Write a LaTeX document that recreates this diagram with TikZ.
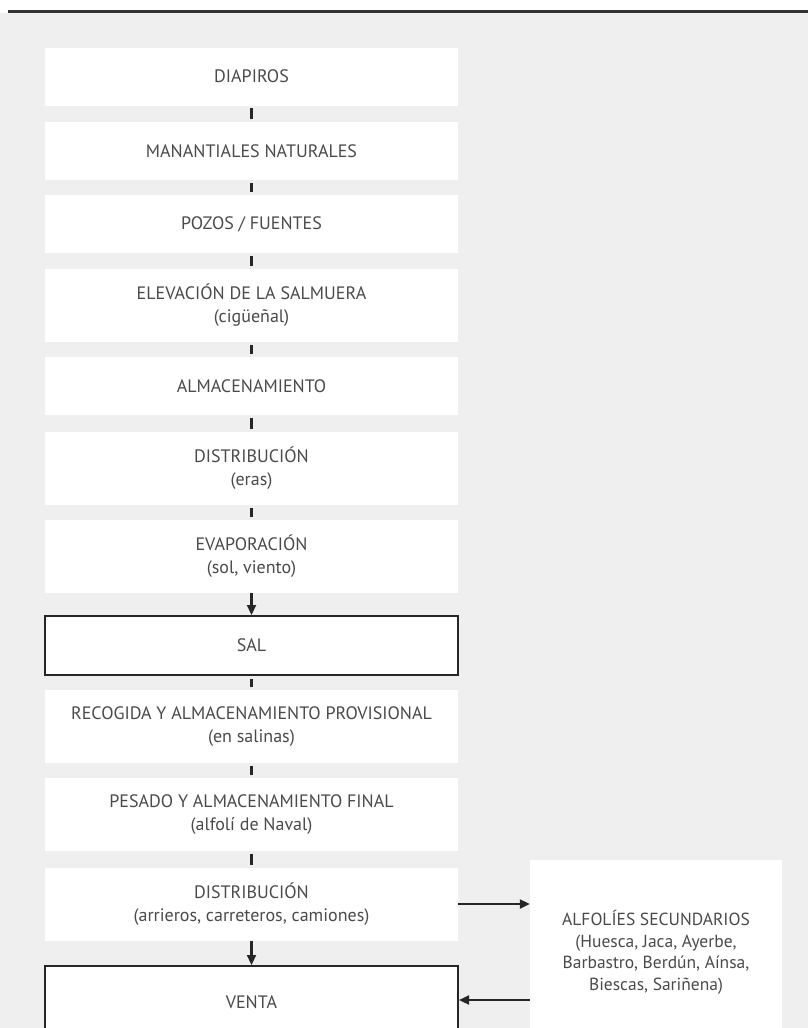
\documentclass[tikz,border=0pt]{standalone}
\usepackage{fontspec}
\setmainfont{PT Sans}
\usetikzlibrary{arrows.meta}
\definecolor{fondo}{HTML}{EFEFEF}
\definecolor{texto}{HTML}{4A4A4A}
\begin{document}
\begin{tikzpicture}[x=1pt, y=-1pt]
	\tikzstyle{paso}=[fill=white, text=texto, align=center, inner sep=0pt, minimum width=413pt, font=\fontsize{18}{23}\selectfont]
	\tikzstyle{simple}=[paso, minimum height=58pt]
	\tikzstyle{doble}=[paso, minimum height=73pt]
	\tikzstyle{marco}=[paso, draw=black!85, line width=2pt, minimum height=59pt]
	\tikzstyle{conector}=[draw, black!85, line width=2.2pt]
	\tikzstyle{arrow}=[conector, -{Triangle[length=10pt, width=9pt]}]
	\newcommand\Xmid{251.5}

	\useasboundingbox (0,0) rectangle (808,1028);
	\clip (0,0) rectangle (808,1028);
	\fill [fondo] (0,13) rectangle (808,1028);
	\draw [black!80, line width=2.5pt] (8,11.5) -- (808,11.5);

	\node [simple] (1) at (\Xmid, 76.5) {DIAPIROS};
	\node [simple] (2) at (\Xmid, 151) {MANANTIALES NATURALES};
	\node [simple] (3) at (\Xmid, 224) {POZOS / FUENTES};
	\node [doble] (4) at (\Xmid, 305.5) {ELEVACIÓN DE LA SALMUERA\\(cigüeñal)};
	\node [simple] (5) at (\Xmid, 386) {ALMACENAMIENTO};
	\node [doble] (6) at (\Xmid, 468.5) {DISTRIBUCIÓN\\(eras)};
	\node [doble] (7) at (\Xmid, 556.5) {EVAPORACIÓN\\(sol, viento)};
	\node [marco] (8) at (\Xmid, 645.5) {SAL};
	\node [doble] (9) at (\Xmid, 726.5) {RECOGIDA Y ALMACENAMIENTO PROVISIONAL\\(en salinas)};
	\node [doble] (10) at (\Xmid, 814.5) {PESADO Y ALMACENAMIENTO FINAL\\(alfolí de Naval)};
	\node [doble] (11) at (\Xmid, 904) {DISTRIBUCIÓN\\(arrieros, carreteros, camiones)};
	\node [marco, minimum height=72pt] (12) at (\Xmid, 1002) {VENTA};

	\node [paso, minimum width=252pt, minimum height=185pt, font=\fontsize{17.5}{21.5}\selectfont] (alf) at (656, 952.5) {ALFOLÍES SECUNDARIOS\\(Huesca, Jaca, Ayerbe,\\Barbastro, Berdún, Aínsa,\\Biescas, Sariñena)};

\foreach \i in {1,2,3,4,5,6,8,9,10}
{
	\pgfmathtruncatemacro{\next}{\i + 1};
	\path [conector, shorten <=2.5pt, shorten >=2.5pt] (\i.south) -- (\next.north);
}
	\path [arrow] (7.south) -- (8.north);
	\path [arrow] (11.south) -- (12.north);
	\path [arrow] (11.east) -- (11.east -| alf.west);
	\path [arrow] (alf.west |- 0,1000) -- (12.east |- 0,1000);

\end{tikzpicture}
\end{document}
